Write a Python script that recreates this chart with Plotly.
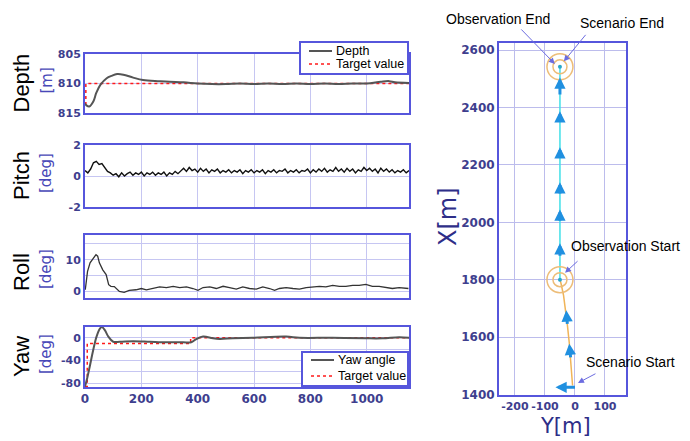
import plotly.graph_objects as go

# ---------------- data ----------------
depth_t = [0, 5, 15, 30, 40, 55, 77, 94, 114, 136, 171, 206, 265, 300, 350, 400, 450, 500, 550,
           600, 650, 700, 750, 800, 850, 900, 950, 1000, 1050, 1080, 1100, 1150]
depth_v = [813.4, 813.7, 813.9, 813.0, 811.6, 810.2, 809.1, 808.7, 808.4, 808.5, 809.0, 809.4,
           809.6, 809.7, 809.8, 810.0, 810.1, 810.1, 810.0, 810.1, 810.0, 810.1, 810.0, 810.1,
           810.0, 810.1, 810.0, 810.0, 809.7, 809.6, 809.8, 809.9]
depth_target_t = [0, 3, 3, 1150]
depth_target_v = [813.5, 813.5, 810.0, 810.0]

pitch_t = list(range(0, 1151, 10))
pitch_v = [0.35, 0.2, 0.45, 0.85, 0.95, 0.75, 0.8, 0.55, 0.3, 0.2,
           0.05, 0.15, -0.05, 0.2, 0.0, 0.15, 0.25, 0.05, 0.2, 0.1,
           0.25, 0.0, 0.2, 0.1, 0.25, 0.05, 0.2, 0.1, 0.25, 0.0,
           0.2, 0.1, 0.3, 0.15, 0.35, 0.5, 0.3, 0.55, 0.35, 0.45,
           0.25, 0.5, 0.3, 0.45, 0.2, 0.4, 0.3, 0.45, 0.2, 0.35,
           0.25, 0.4, 0.2, 0.35, 0.25, 0.4, 0.15, 0.35, 0.25, 0.4,
           0.2, 0.35, 0.25, 0.4, 0.15, 0.35, 0.25, 0.4, 0.2, 0.35,
           0.3, 0.45, 0.2, 0.35, 0.25, 0.4, 0.2, 0.35, 0.3, 0.45,
           0.2, 0.4, 0.25, 0.45, 0.3, 0.5, 0.25, 0.4, 0.3, 0.55,
           0.3, 0.45, 0.25, 0.5, 0.3, 0.45, 0.2, 0.4, 0.3, 0.55,
           0.35, 0.5, 0.3, 0.45, 0.2, 0.5, 0.3, 0.45, 0.25, 0.4,
           0.2, 0.35, 0.25, 0.4, 0.2, 0.35]

roll_t = [1, 9, 18, 27, 39, 45, 51, 63, 75, 84, 92, 104, 122, 139, 157, 181, 200, 218, 242, 265,
          289, 313, 336, 360, 383, 401, 419, 443, 466, 490, 513, 537, 560, 584, 608, 631, 655,
          673, 690, 714, 738, 761, 785, 808, 832, 855, 879, 903, 926, 950, 973, 997, 1020, 1044,
          1068, 1091, 1115, 1148]
roll_v = [0.5, 6.3, 9.0, 10.0, 11.6, 11.1, 9.0, 6.8, 5.3, 2.1, 1.6, 1.5, 0.0, -0.3, 0.3, 0.5,
          0.9, 0.5, 0.9, 1.4, 1.2, 1.6, 1.2, 1.4, 0.9, 0.3, 1.2, 1.4, 0.9, 1.6, 1.2, 0.7, 1.4,
          0.9, 0.7, 1.4, 0.9, 0.3, 0.9, 1.2, 0.9, 0.7, 1.2, 1.4, 1.6, 1.4, 1.9, 1.6, 1.6, 1.9,
          1.9, 2.2, 1.6, 1.6, 1.2, 0.9, 1.2, 0.9]

yaw_t = [0, 8, 18, 29, 41, 53, 60, 71, 83, 100, 124, 171, 230, 289, 348, 377, 395, 419, 454,
         478, 525, 596, 714, 761, 879, 997, 1056, 1115, 1150]
yaw_v = [-86, -71, -48, -22, 2, 16, 19, 13, 2, -7, -7, -6, -7, -8, -8, -8, -2.3, 2, -1, -2, -1,
         0, 2, 0, 0, -1, -1, 1, 0]
yaw_target_t = [0, 8, 8, 375, 375, 1150]
yaw_target_v = [-86, -86, -10, -10, 0, 0]

time_ticks = [0, 200, 400, 600, 800, 1000]
time_ticktext = ["0", "200", "400", "600", "800", "1000"]

# trajectory (horizontal = Y[m], vertical = X[m])
scen_Y = [-8, -11, -14, -19, -25, -30, -38, -46, -50]
scen_X = [1431, 1480, 1530, 1580, 1640, 1690, 1745, 1785, 1800]
obs_Y = [-50, -50, -51, -50, -50]
obs_X = [1800, 2000, 2200, 2400, 2542]
ring_Y = [-50, -50]
ring_X = [1800, 2542]

arrow_tail_Y = [5, -14, -25, -50, -50, -50, -50, -50, -50]
arrow_tail_X = [1425, 1524, 1641, 1878, 2000, 2095, 2220, 2345, 2440]
arrow_head_Y = [-65, -19, -29, -50, -50, -50, -50, -50, -50]
arrow_head_X = [1425, 1577, 1693, 1927, 2045, 2140, 2262, 2387, 2505]

label_text = ["Observation End", "Scenario End", "Observation Start", "Scenario Start"]
label_target_Y = [-67, -37, -33, 10]
label_target_X = [2552, 2561, 1824, 1440]

xy_Yticks = [-200, -100, 0, 100]
xy_Yticktext = ["-200", "-100", "0", "100"]
xy_Xticks = [1400, 1600, 1800, 2000, 2200, 2400, 2600]
xy_Xticktext = ["1400", "1600", "1800", "2000", "2200", "2400", "2600"]

depth_legend_names = ["Depth", "Target value"]
yaw_legend_names = ["Yaw angle", "Target value"]

# ---------------- style ----------------
PAGE_OFF = 8                      # default body margin of the html page
W, H = 690 - PAGE_OFF, 441 - PAGE_OFF
BORDER = "#5656dc"
GRID = "#c6c6f2"
TICKC = "#3e3e8e"
TICKFONT = dict(family="DejaVu Sans", size=11, color=TICKC, weight="bold")
TXT = "Liberation Sans, Arial, sans-serif"
ACT_COLOR = "#555555"
TGT_COLOR = "#ff1a1a"


def px_x(p):
    return (p - PAGE_OFF) / W


def px_y(p):
    return 1 - (p - PAGE_OFF) / H


def ax_style(**kw):
    d = dict(showline=True, mirror=True, linecolor=BORDER, linewidth=2,
             showgrid=True, gridcolor=GRID, gridwidth=1, zeroline=False,
             ticks="", tickfont=TICKFONT, fixedrange=True, automargin=False, tickangle=0)
    d.update(kw)
    return d


fig = go.Figure()

# depth
fig.add_trace(go.Scatter(x=depth_target_t, y=depth_target_v, mode="lines", name="Target value",
                         line=dict(color=TGT_COLOR, width=1.5, dash="dot"),
                         xaxis="x", yaxis="y", showlegend=False))
fig.add_trace(go.Scatter(x=depth_t, y=depth_v, mode="lines", name="Depth", line_shape="spline",
                         line=dict(color=ACT_COLOR, width=2),
                         xaxis="x", yaxis="y", showlegend=False))
# pitch
fig.add_trace(go.Scatter(x=pitch_t, y=pitch_v, mode="lines", showlegend=False,
                         line=dict(color="#111111", width=1.4), xaxis="x2", yaxis="y2"))
# roll
fig.add_trace(go.Scatter(x=roll_t, y=roll_v, mode="lines", showlegend=False,
                         line=dict(color="#333333", width=1.3), xaxis="x3", yaxis="y3"))
# yaw
fig.add_trace(go.Scatter(x=yaw_target_t, y=yaw_target_v, mode="lines", name="Target value",
                         line=dict(color=TGT_COLOR, width=1.5, dash="dot"),
                         xaxis="x4", yaxis="y4", showlegend=False))
fig.add_trace(go.Scatter(x=yaw_t, y=yaw_v, mode="lines", name="Yaw angle", line_shape="spline",
                         line=dict(color=ACT_COLOR, width=2),
                         xaxis="x4", yaxis="y4", showlegend=False))
# trajectory
fig.add_trace(go.Scatter(x=scen_Y, y=scen_X, mode="lines", showlegend=False,
                         line=dict(color="#f0b458", width=1.5), xaxis="x5", yaxis="y5"))
fig.add_trace(go.Scatter(x=obs_Y, y=obs_X, mode="lines", showlegend=False,
                         line=dict(color="#40e0e8", width=1.5), xaxis="x5", yaxis="y5"))
fig.add_trace(go.Scatter(x=ring_Y, y=ring_X, mode="markers", showlegend=False,
                         marker=dict(symbol="circle-open", size=26, color="#edbd78",
                                     line=dict(width=1.5, color="#edbd78")),
                         xaxis="x5", yaxis="y5"))
fig.add_trace(go.Scatter(x=ring_Y, y=ring_X, mode="markers", showlegend=False,
                         marker=dict(symbol="circle-open", size=14, color="#edbd78",
                                     line=dict(width=1.5, color="#edbd78")),
                         xaxis="x5", yaxis="y5"))
fig.add_trace(go.Scatter(x=ring_Y, y=ring_X, mode="markers", showlegend=False,
                         marker=dict(symbol="circle", size=4, color="#2aa8c8"),
                         xaxis="x5", yaxis="y5"))

# ---------------- layout ----------------
LX = [px_x(85), px_x(409)]
BIGTICK = dict(family="DejaVu Sans", size=12, color=TICKC, weight="bold")
layout_axes = dict(
    xaxis=ax_style(domain=LX, range=[0, 1150], tickvals=time_ticks, showticklabels=False, anchor="y"),
    yaxis=ax_style(domain=[px_y(113), px_y(54)], range=[815, 805], tickvals=[805, 810, 815],
                   ticktext=["805", "810", "815"], anchor="x"),
    xaxis2=ax_style(domain=LX, range=[0, 1150], tickvals=time_ticks, showticklabels=False, anchor="y2"),
    yaxis2=ax_style(domain=[px_y(207), px_y(145)], range=[-2, 2], tickvals=[-2, 0, 2],
                    ticktext=["-2", "0", "2"], anchor="x2"),
    xaxis3=ax_style(domain=LX, range=[0, 1150], tickvals=time_ticks, showticklabels=False, anchor="y3"),
    yaxis3=ax_style(domain=[px_y(298), px_y(235)], range=[-2.1, 17.8], tickvals=[0, 5, 10, 15],
                    ticktext=["0", "", "10", ""], anchor="x3"),
    xaxis4=ax_style(domain=LX, range=[0, 1150], tickvals=time_ticks, ticktext=time_ticktext,
                    anchor="y4", tickfont=BIGTICK),
    yaxis4=ax_style(domain=[px_y(387), px_y(327)], range=[-87, 19], tickvals=[0, -20, -40, -60, -80],
                    ticktext=["0", "", "-40", "", "-80"], anchor="x4"),
    xaxis5=ax_style(domain=[px_x(499), px_x(626)], range=[-253, 170], tickvals=xy_Yticks,
                    ticktext=xy_Yticktext, anchor="y5", gridcolor="#bcbcec",
                    tickfont=dict(family="DejaVu Sans", size=11, color=TICKC, weight="bold")),
    yaxis5=ax_style(domain=[px_y(395), px_y(43)], range=[1398, 2625], tickvals=xy_Xticks,
                    ticktext=xy_Xticktext, anchor="x5", gridcolor="#bcbcec", tickfont=BIGTICK),
)

fig.update_layout(
    width=W, height=H, margin=dict(l=0, r=0, t=0, b=0, autoexpand=False),
    paper_bgcolor="white", plot_bgcolor="white", showlegend=False, hovermode=False,
    **layout_axes,
)

annotations = []
shapes = []
# left titles
panel_centers = [83.5, 176, 272, 357]
panel_names = ["Depth", "Pitch", "Roll", "Yaw"]
panel_units = ["[m]", "[deg]", "[deg]", "[deg]"]
for yc, nm, un in zip(panel_centers, panel_names, panel_units):
    annotations.append(dict(text=nm, x=px_x(21), y=px_y(yc), xref="paper", yref="paper",
                            showarrow=False, textangle=-90, xanchor="center", yanchor="middle",
                            font=dict(family=TXT, size=22, color="black")))
    annotations.append(dict(text=un, x=px_x(46), y=px_y(yc - 3), xref="paper", yref="paper",
                            showarrow=False, textangle=-90, xanchor="center", yanchor="middle",
                            font=dict(family="DejaVu Sans", size=15, color="#4848b8")))
# right axis titles
annotations.append(dict(text="X[m]", x=px_x(448), y=px_y(217), xref="paper", yref="paper",
                        showarrow=False, textangle=-90, xanchor="center", yanchor="middle",
                        font=dict(family="DejaVu Sans", size=24, color="#2e2e88")))
annotations.append(dict(text="Y[m]", x=px_x(565), y=px_y(426), xref="paper", yref="paper",
                        showarrow=False, xanchor="center", yanchor="middle",
                        font=dict(family="DejaVu Sans", size=21, color="#2e2e88")))

# trajectory arrows
for ty, tx, hy, hx in zip(arrow_tail_Y, arrow_tail_X, arrow_head_Y, arrow_head_X):
    annotations.append(dict(x=hy, y=hx, ax=ty, ay=tx, xref="x5", yref="y5", axref="x5", ayref="y5",
                            text="", showarrow=True, arrowhead=2, arrowsize=0.75, arrowwidth=3,
                            arrowcolor="#2090e0"))

# labels
label_pos = [(498, 19), (622, 23), (625, 246), (630, 362)]
label_off = [(-35, -36), (23, -28), (14, -13), (19, -10)]
for txt, (lx, ly), ty, tx, (ox, oy) in zip(label_text, label_pos, label_target_Y, label_target_X, label_off):
    annotations.append(dict(text=txt, x=px_x(lx), y=px_y(ly), xref="paper", yref="paper",
                            showarrow=False, xanchor="center", yanchor="middle",
                            font=dict(family=TXT, size=14, color="black")))
    annotations.append(dict(text="", x=ty, y=tx, xref="x5", yref="y5", ax=ox, ay=oy,
                            showarrow=True, arrowhead=2, arrowsize=1.2, arrowwidth=1,
                            arrowcolor="#6c6ce0"))

# legends (box, line samples, real text)
legend_boxes = [((300, 42, 408, 74), depth_legend_names, (51, 64)),
                ((302, 352, 408, 386), yaw_legend_names, (360, 376))]
for (x0, y0, x1, y1), names, rows in legend_boxes:
    shapes.append(dict(type="rect", xref="paper", yref="paper", x0=px_x(x0), x1=px_x(x1),
                       y0=px_y(y0), y1=px_y(y1), line=dict(color=BORDER, width=2),
                       fillcolor="white", layer="above"))
    styles = [dict(color=ACT_COLOR, width=2), dict(color=TGT_COLOR, width=1.5, dash="dot")]
    for nm, ry, st in zip(names, rows, styles):
        shapes.append(dict(type="line", xref="paper", yref="paper", x0=px_x(x0 + 9), x1=px_x(x0 + 32),
                           y0=px_y(ry), y1=px_y(ry), line=st, layer="above"))
        annotations.append(dict(text=nm, x=px_x(x0 + 34), y=px_y(ry), xref="paper", yref="paper",
                                showarrow=False, xanchor="left", yanchor="middle",
                                font=dict(family=TXT, size=12.5, color="black")))

fig.update_layout(annotations=annotations, shapes=shapes)

fig.write_html("out.html", config={"displayModeBar": False, "staticPlot": True})
